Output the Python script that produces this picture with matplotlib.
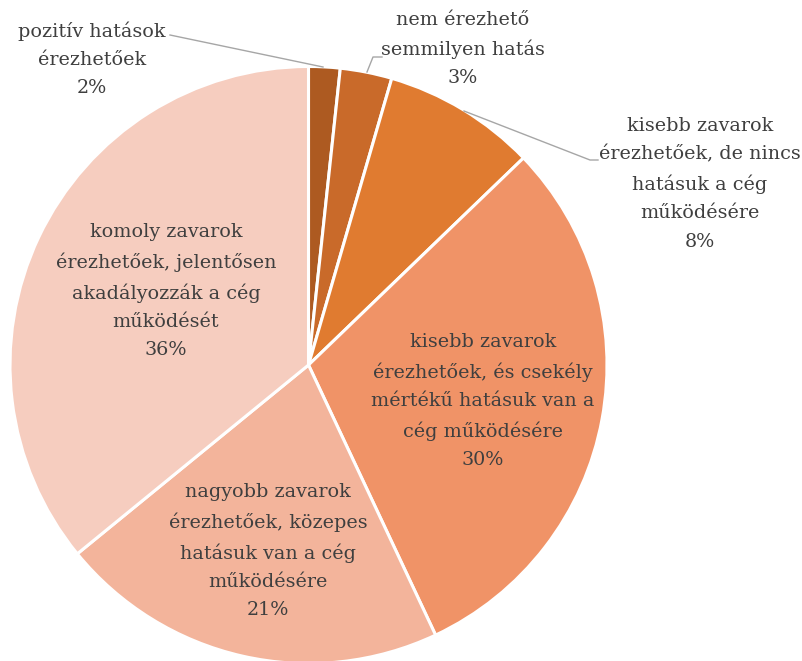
import matplotlib.pyplot as plt

# slice data, clockwise from 12 o'clock
categories = [
    "pozitív hatások\nérezhetőek",
    "nem érezhető\nsemmilyen hatás",
    "kisebb zavarok\nérezhetőek, de nincs\nhatásuk a cég\nműködésére",
    "kisebb zavarok\nérezhetőek, és csekély\nmértékű hatásuk van a\ncég működésére",
    "nagyobb zavarok\nérezhetőek, közepes\nhatásuk van a cég\nműködésére",
    "komoly zavarok\nérezhetőek, jelentősen\nakadályozzák a cég\nműködését",
]
shares = [1.7, 2.8, 8.3, 30.2, 21.1, 35.9]
shown_pct = [2, 3, 8, 30, 21, 36]
colors = ["#AD5A21", "#C96A2A", "#E07B30", "#F09367", "#F3B49B", "#F6CDBF"]

W, H = 803, 661
CX, CY, R = 308.5, 365.0, 298.5


def px(x, y):
    # pixel position -> data coords (radius = 1)
    return (x - CX) / R, (CY - y) / R


fig = plt.figure(figsize=(W / 100, H / 100), dpi=100)
ax = fig.add_axes([0, 0, 1, 1])
ax.pie(shares, colors=colors, startangle=90, counterclock=False,
       wedgeprops=dict(edgecolor="white", linewidth=2.2))
ax.set_xlim(-CX / R, (W - CX) / R)
ax.set_ylim(-(H - CY) / R, CY / R)
ax.set_aspect("equal")
ax.axis("off")

txt = dict(family="DejaVu Serif", fontsize=13.8, color="#3F3F3F",
           ha="center", va="center", linespacing=1.72)

label_pos = [(92, 59), (463, 49), (700, 184), (483, 401), (268, 551), (166, 291)]
for name, pct, (x, y) in zip(categories, shown_pct, label_pos):
    ax.text(*px(x, y), f"{name}\n{pct}%", **txt)

# leader lines
leaders = [
    [(170, 35), (323, 67)],
    [(382, 57), (373, 57), (367, 72)],
    [(464, 111), (590, 160), (598, 160)],
]
for pts in leaders:
    xs, ys = zip(*[px(*p) for p in pts])
    ax.plot(xs, ys, color="#A6A6A6", lw=1)

fig.savefig("out.png", dpi=100)
